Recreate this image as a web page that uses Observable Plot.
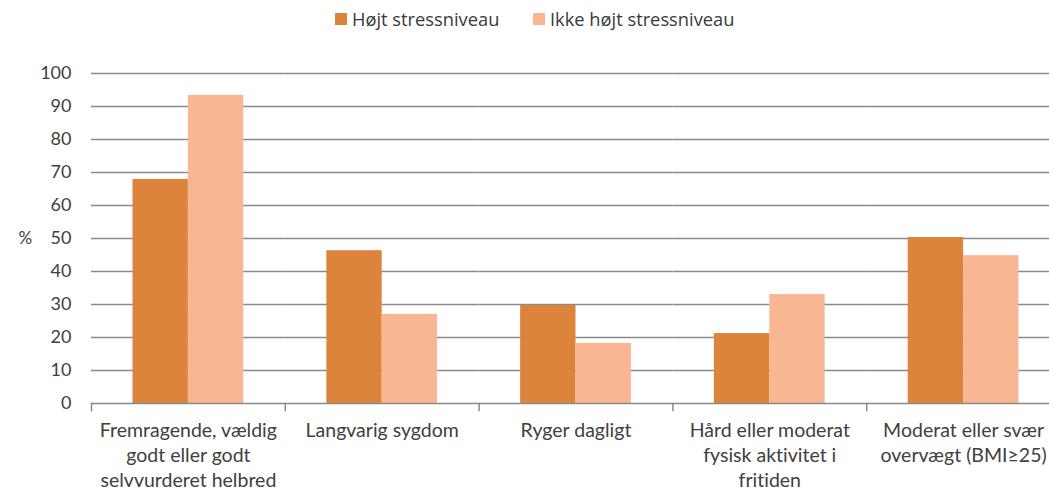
<!DOCTYPE html>
<html>
<head>
<meta charset="utf-8">
<script src="https://cdn.jsdelivr.net/npm/d3@7"></script>
<script src="https://cdn.jsdelivr.net/npm/@observablehq/plot@0.6"></script>
<style>
  html, body { margin: 0; padding: 0; background: #fff; overflow: hidden; }
  #legend { position: relative; height: 40px; font-family: "Open Sans", sans-serif; font-size: 18.3px; color: #3a3a3a; }
  .item { position: absolute; top: 6px; display: flex; align-items: center; }
  .sw { width: 12px; height: 12px; margin-right: 5px; }
  svg text { font-variant-ligatures: none; font-feature-settings: "liga" 0; }
</style>
</head>
<body>
<div id="legend"></div>
<div id="chart"></div>
<script>
const categories = [
  "Fremragende, vældig godt eller godt selvvurderet helbred",
  "Langvarig sygdom",
  "Ryger dagligt",
  "Hård eller moderat fysisk aktivitet i fritiden",
  "Moderat eller svær overvægt (BMI≥25)"
];
const tickLabels = [
  "Fremragende, vældig\ngodt eller godt\nselvvurderet helbred",
  "Langvarig sygdom",
  "Ryger dagligt",
  "Hård eller moderat\nfysisk aktivitet i\nfritiden",
  "Moderat eller svær\novervægt (BMI≥25)"
];
const series = ["Højt stressniveau", "Ikke højt stressniveau"];
const hojt = [67.9, 46.3, 29.7, 21.2, 50.3];
const ikkeHojt = [93.4, 27.0, 18.2, 33.0, 44.8];
const yTicks = [0, 10, 20, 30, 40, 50, 60, 70, 80, 90, 100];
const colors = ["#DC843B", "#F8B692"];

const data = categories.flatMap((c, i) => [
  {category: c, series: series[0], value: hojt[i]},
  {category: c, series: series[1], value: ikkeHojt[i]}
]);

// legend
const legend = document.getElementById("legend");
const legendLeft = [335, 533];
series.forEach((s, i) => {
  const it = document.createElement("div");
  it.className = "item";
  it.style.left = legendLeft[i] + "px";
  const sw = document.createElement("span");
  sw.className = "sw";
  sw.style.background = colors[i];
  const tx = document.createElement("span");
  tx.textContent = s;
  it.appendChild(sw); it.appendChild(tx);
  legend.appendChild(it);
});

const gridColor = "#8a8a8a";
const chart = Plot.plot({
  width: 1060,
  height: 450,
  marginTop: 33,
  marginBottom: 87,
  marginLeft: 91,
  marginRight: 0,
  style: {maxWidth: "none", fontFamily: "Lato, sans-serif", fontSize: "18px", color: "#404040", overflow: "visible"},
  fx: {domain: categories, padding: 0, round: false, label: null},
  x: {domain: series, paddingInner: 0, paddingOuter: 0.75, round: false, axis: null},
  y: {domain: [0, 100], label: null},
  color: {domain: series, range: colors},
  marks: [
    Plot.ruleY(yTicks.filter(d => d > 0), {stroke: gridColor, strokeWidth: 1.5}),
    Plot.barY(data, {fx: "category", x: "series", y: "value", fill: "series"}),
    Plot.ruleY([0], {stroke: gridColor, strokeWidth: 1.5}),
    Plot.frame({anchor: "left", stroke: gridColor, strokeWidth: 1.5, insetTop: 330, insetBottom: -7}),
    Plot.axisY({ticks: yTicks, tickSize: 0, tickPadding: 20, label: null}),
    Plot.axisFx({anchor: "bottom", tickSize: 0, tickPadding: 16, fontSize: 19.5, lineHeight: 1.28, label: null,
      tickFormat: c => tickLabels[categories.indexOf(c)]}),
    Plot.text(["%"], {fx: [categories[0]], frameAnchor: "left", dx: -73, fontSize: 17})
  ]
});
document.getElementById("chart").appendChild(chart);
</script>
</body>
</html>
